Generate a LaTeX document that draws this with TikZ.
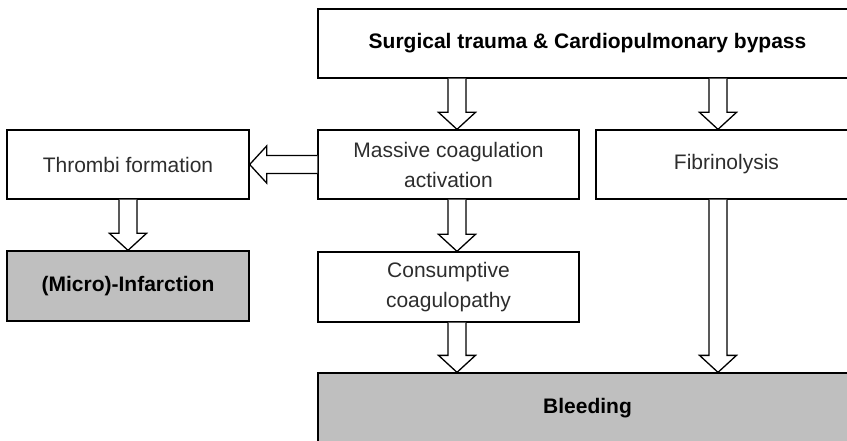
\documentclass[tikz,border=0pt]{standalone}
\usepackage{fontspec}
\setmainfont{Liberation Sans}
\usepackage{tikz}
\usetikzlibrary{calc,positioning}
\definecolor{boxgray}{RGB}{191,191,191}
\definecolor{textgray}{RGB}{45,45,45}
\tikzstyle{box} = [rectangle, draw, line width=1.3pt, fill=white, inner sep=0pt,
    minimum width=261pt, minimum height=69pt, align=center, text=textgray,
    font=\fontsize{21}{30}\selectfont]
\tikzstyle{endbox} = [box, fill=boxgray, text=black, font=\fontsize{21}{30}\selectfont\bfseries]
\tikzstyle{fatarrow} = [draw, line width=1.3pt, fill=white, line join=miter]
\newcommand{\fatdown}[2]{%
    \draw[fatarrow] let \p1=(#1), \p2=(#2) in
        (\x1-9pt,\y1) -- (\x1-9pt,\y2+17pt) -- (\x1-18.5pt,\y2+17pt) -- (\x1,\y2)
        -- (\x1+18.5pt,\y2+17pt) -- (\x1+9pt,\y2+17pt) -- (\x1+9pt,\y1);}
\newcommand{\fatleft}[2]{%
    \draw[fatarrow] let \p1=(#1), \p2=(#2) in
        (\x1,\y1+9pt) -- (\x2+17pt,\y1+9pt) -- (\x2+17pt,\y1+18.5pt) -- (\x2,\y1)
        -- (\x2+17pt,\y1-18.5pt) -- (\x2+17pt,\y1-9pt) -- (\x1,\y1-9pt);}
\begin{document}
\begin{tikzpicture}[x=1pt, y=-1pt]
    \useasboundingbox (0,0) rectangle (847,441);
    \clip (0,0) rectangle (847,441);

    \node[box, minimum width=539pt, text=black, font=\fontsize{21}{30}\selectfont\bfseries] (surgery) at (587.5,43.5)
        {Surgical trauma \& Cardiopulmonary bypass};
    \node[box] (massive) at (448.5,164.5) {Massive coagulation\\activation};
    \node[box] (fibrinolysis) at (726.5,164.5) {Fibrinolysis};
    \node[box, minimum width=242pt] (thrombi) at (128,164.5) {Thrombi formation};
    \node[endbox, minimum width=242pt, minimum height=70pt] (infarction) at (128,286) {(Micro)-Infarction};
    \node[box, minimum height=70pt] (consumptive) at (448.5,287) {Consumptive\\coagulopathy};
    \node[endbox, minimum width=539pt, minimum height=70pt] (bleeding) at (587.5,408) {Bleeding};

    % arrow columns
    \coordinate (colA) at (457,0);
    \coordinate (colB) at (718,0);

    \fatdown{surgery.south -| colA}{massive.north -| colA}
    \fatdown{surgery.south -| colB}{fibrinolysis.north -| colB}
    \fatdown{massive.south -| colA}{consumptive.north -| colA}
    \fatdown{consumptive.south -| colA}{bleeding.north -| colA}
    \fatdown{fibrinolysis.south -| colB}{bleeding.north -| colB}
    \fatdown{thrombi.south}{infarction.north}
    \fatleft{massive.west}{thrombi.east}
\end{tikzpicture}
\end{document}
